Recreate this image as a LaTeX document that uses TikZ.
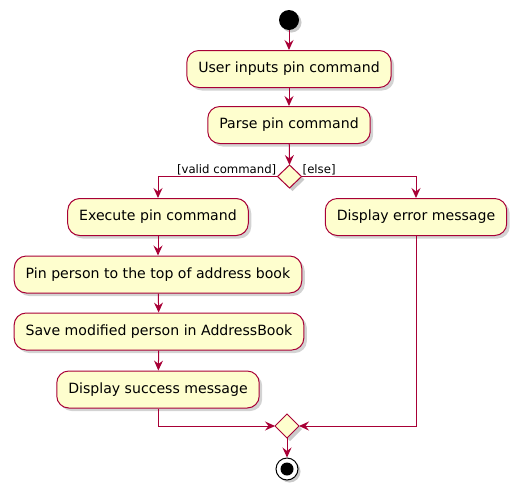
\documentclass[tikz,border=0pt]{standalone}
\usepackage{fontspec}
\setmainfont{DejaVu Sans}
\usetikzlibrary{arrows.meta,shadows}
\definecolor{umlred}{HTML}{A80036}
\definecolor{umlfill}{HTML}{FEFECE}

\begin{document}
\begin{tikzpicture}[x=1pt,y=-1pt,
	action/.style={draw=umlred, fill=umlfill, line width=1pt, rounded corners=12pt,
		minimum height=37pt, inner xsep=11.5pt, font=\fontsize{14.1}{16}\selectfont,
		drop shadow={shadow xshift=3pt, shadow yshift=-3pt, opacity=0.35}},
	flow/.style={draw=umlred, line width=1pt, -{Stealth[length=10pt,width=9pt,inset=3.5pt]}},
	guard/.style={font=\fontsize{11.7}{13}\selectfont, inner sep=1pt}]
	\useasboundingbox (0,0) rectangle (527,496);
	% start
	\fill[black!35, opacity=0.6] (291.5,22.5) circle (10pt);
	\node[circle, fill=black, minimum size=20pt, inner sep=0pt] (start) at (289,20) {};
	% actions
	\node[action] (input) at (289,69) {User inputs pin command};
	\node[action] (parse) at (289,125) {Parse pin command};
	% decision
	\fill[black!35, opacity=0.6] (280.5,179.5) -- ++(12,-11.5) -- ++(12,11.5) -- ++(-12,11.5) -- cycle;
	\draw[umlred, fill=umlfill, line width=1pt] (277.5,176.5) coordinate (decW) -- (289.5,165) coordinate (decN)
		-- (301.5,176.5) coordinate (decE) -- (289.5,188) coordinate (decS) -- cycle;
	\node[action] (exec) at (158,217) {Execute pin command};
	\node[action] (error) at (416,217) {Display error message};
	\node[action] (pin) at (158,274.5) {Pin person to the top of address book};
	\node[action] (save) at (159,331.5) {Save modified person in AddressBook};
	\node[action] (success) at (158,389.5) {Display success message};
	% merge
	\fill[black!35, opacity=0.6] (278,429) -- ++(12,-12) -- ++(12,12) -- ++(-12,12) -- cycle;
	\draw[umlred, fill=umlfill, line width=1pt] (275,426) coordinate (mrgW) -- (287,414) coordinate (mrgN)
		-- (299,426) coordinate (mrgE) -- (287,438) coordinate (mrgS) -- cycle;
	% end
	\fill[black!35, opacity=0.6] (289.5,471.5) circle (11pt);
	\node[circle, draw=black, fill=white, line width=1pt, minimum size=22pt, inner sep=0pt] (stop) at (287,469) {};
	\fill[black] (stop.center) circle (6.5pt);
	% connectors
	\draw[flow] (start) -- (input);
	\draw[flow] (input) -- (parse);
	\draw[flow] (parse) -- (decN);
	\draw[flow] (decW) -| (exec.north);
	\draw[flow] (decE) -| (error.north);
	\node[guard, anchor=south east] (validlbl) at (decW) {[valid command]};
	\node[guard, anchor=south west] (elselbl) at (decE) {[else]};
	\draw[flow] (exec) -- (pin);
	\draw[flow] (pin) -- (save);
	\draw[flow] (save) -- (success);
	\draw[flow] (success.south) |- (mrgW);
	\draw[flow] (error.south) |- (mrgE);
	\draw[flow] (mrgS) -- (stop);
\end{tikzpicture}
\end{document}
